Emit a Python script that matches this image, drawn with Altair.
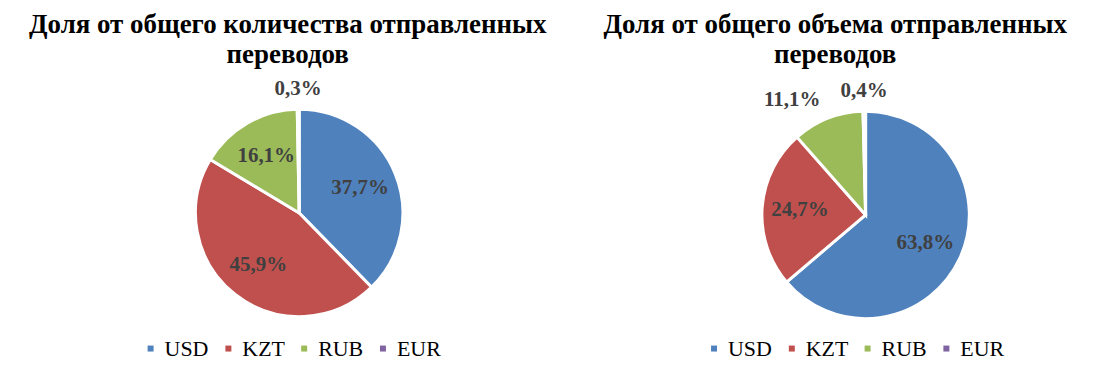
import altair as alt
import pandas as pd

currencies = ["USD", "KZT", "RUB", "EUR"]
share_count = [37.7, 45.9, 16.1, 0.3]
share_volume = [63.8, 24.7, 11.1, 0.4]
colors = ["#4F81BD", "#C0504D", "#9BBB59", "#8064A2"]

title_left = ["Доля от общего количества отправленных", "переводов"]
title_right = ["Доля от общего объема отправленных", "переводов"]

FONT = "Liberation Serif"


def make_df(values):
    return pd.DataFrame({"currency": currencies, "share": values,
                         "idx": list(range(len(currencies)))})


def pie(values, title, width, cx, cy, legend_x, title_dx):
    src = alt.Chart(make_df(values))
    arcs = src.mark_arc(outerRadius=104, stroke="white", strokeWidth=3).encode(
        theta=alt.Theta("share:Q", stack=True),
        order=alt.Order("idx:Q"),
        x=alt.value(cx),
        y=alt.value(cy),
        color=alt.Color(
            "currency:N",
            scale=alt.Scale(domain=currencies, range=colors),
            sort=currencies,
            legend=alt.Legend(
                orient="none", legendX=legend_x, legendY=263, direction="horizontal",
                title=None, symbolType="square", symbolSize=36, symbolStrokeWidth=0,
                labelFont=FONT, labelFontSize=22, labelColor="black",
                labelOffset=3, columnPadding=8, labelLimit=0,
            ),
        ),
    )
    lab = src.transform_window(
        cum="sum(share)", sort=[alt.SortField("idx", order="ascending")], frame=[None, 0]
    ).transform_joinaggregate(total="sum(share)").transform_calculate(
        ang="2 * PI * (datum.cum - datum.share / 2) / datum.total",
        label="replace(format(datum.share, '.1f'), '.', ',') + '%'",
    ).encode(
        theta=alt.Theta("ang:Q", scale=None),
        x=alt.value(cx),
        y=alt.value(cy),
        text="label:N",
    )
    style = dict(font=FONT, fontSize=21, fontWeight="bold", color="#404040")
    inside = lab.transform_filter("datum.share >= 12").mark_text(radius=66, **style)
    out_top = lab.transform_filter("datum.share < 1").mark_text(radius=124, **style)
    out_side = lab.transform_filter("datum.share >= 1 && datum.share < 12").mark_text(
        radius=124, align="right", **style)
    return alt.layer(arcs, inside, out_top, out_side).properties(
        width=width, height=290,
        title=alt.TitleParams(title, font=FONT, fontSize=27, fontWeight="bold",
                              color="black", lineHeight=30, anchor="middle",
                              dx=title_dx, offset=6),
    )


left = pie(share_count, title_left, 555, 287, 138, 127, -2)
right = pie(share_volume, title_right, 515, 300, 140, 137, 12)

chart = alt.hconcat(left, right, spacing=0).resolve_scale(
    color="independent", theta="independent"
).resolve_legend(color="independent").properties(
    padding={"left": 5, "top": 3, "right": 5, "bottom": 5}
).configure(
    background="white", view=alt.ViewConfig(stroke=None),
    legend=alt.LegendConfig(labelFont=FONT, labelFontSize=22),
)

chart.save("out.html", embed_options={"renderer": "svg", "actions": False})
